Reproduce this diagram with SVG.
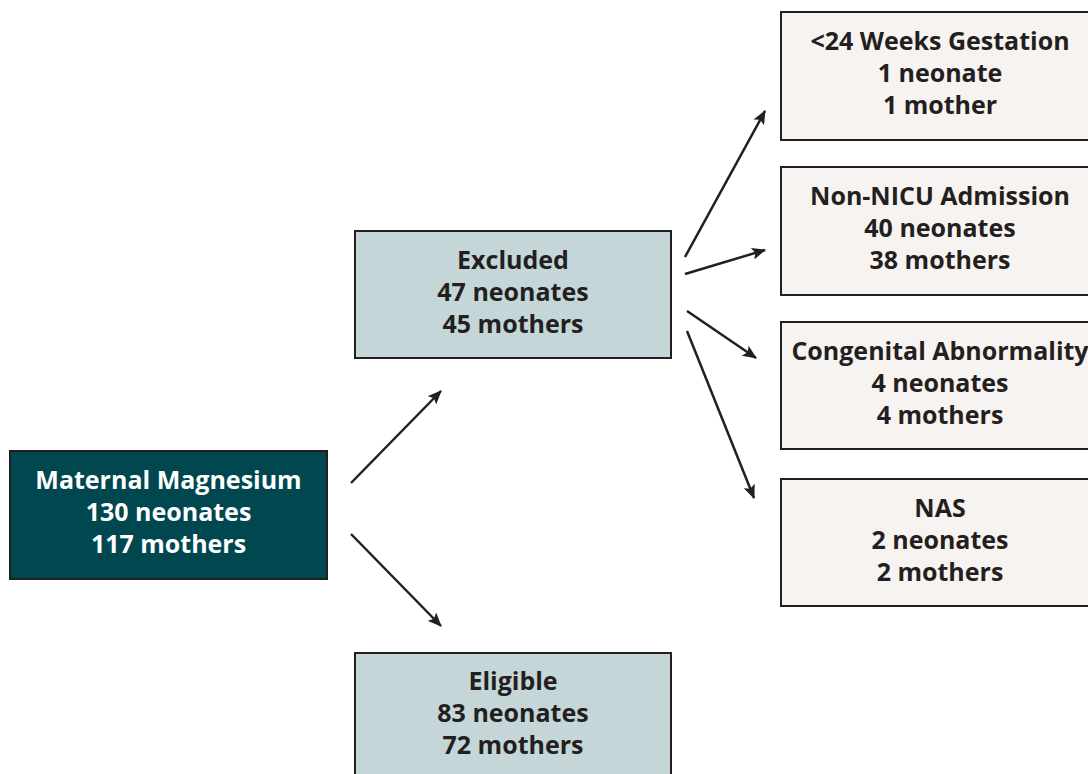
<svg xmlns="http://www.w3.org/2000/svg" width="1088" height="774" viewBox="0 0 1088 774">
<defs>
<marker id="ah" viewBox="0 0 14 12" refX="13" refY="6" markerWidth="14" markerHeight="12" markerUnits="userSpaceOnUse" orient="auto">
<path d="M0,0 L14,6 L0,12 L3,6 Z" fill="#231F20"/>
</marker>
<style>
.box{stroke:#231F20;stroke-width:2}
.t{font-family:"Open Sans",Lato,sans-serif;font-weight:700;font-size:25px;text-anchor:middle;fill:#231F20}
.w{fill:#ffffff}
.c{stroke:#231F20;stroke-width:2.5;fill:none;marker-end:url(#ah)}
</style>
</defs>
<rect width="1088" height="774" fill="#ffffff"/>
<g id="connectors">
<line class="c" x1="351" y1="483" x2="441" y2="391"/>
<line class="c" x1="351" y1="534" x2="441" y2="626"/>
<line class="c" x1="685" y1="257" x2="765" y2="111"/>
<line class="c" x1="685" y1="274" x2="765" y2="250"/>
<line class="c" x1="687" y1="311" x2="756" y2="358"/>
<line class="c" x1="687" y1="331" x2="754" y2="498"/>
</g>
<g id="maternal">
<rect class="box" x="10" y="451" width="317" height="128" fill="#00474F"/>
<text class="t w" x="168.5" y="489">Maternal Magnesium</text>
<text class="t w" x="168.5" y="521">130 neonates</text>
<text class="t w" x="168.5" y="553">117 mothers</text>
</g>
<g id="excluded">
<rect class="box" x="355" y="231" width="316" height="127" fill="#C5D6D8"/>
<text class="t" x="513" y="269">Excluded</text>
<text class="t" x="513" y="301">47 neonates</text>
<text class="t" x="513" y="333">45 mothers</text>
</g>
<g id="eligible">
<rect class="box" x="355" y="653" width="316" height="130" fill="#C5D6D8"/>
<text class="t" x="513" y="690">Eligible</text>
<text class="t" x="513" y="722">83 neonates</text>
<text class="t" x="513" y="754">72 mothers</text>
</g>
<g id="gestation">
<rect class="box" x="781" y="12" width="320" height="128" fill="#F7F3F1"/>
<text class="t" x="940" y="50">&lt;24 Weeks Gestation</text>
<text class="t" x="940" y="82">1 neonate</text>
<text class="t" x="940" y="114">1 mother</text>
</g>
<g id="nonnicu">
<rect class="box" x="781" y="167" width="320" height="128" fill="#F7F3F1"/>
<text class="t" x="940" y="205">Non-NICU Admission</text>
<text class="t" x="940" y="237">40 neonates</text>
<text class="t" x="940" y="269">38 mothers</text>
</g>
<g id="congenital">
<rect class="box" x="781" y="322" width="320" height="127" fill="#F7F3F1"/>
<text class="t" x="940" y="360">Congenital Abnormality</text>
<text class="t" x="940" y="392">4 neonates</text>
<text class="t" x="940" y="424">4 mothers</text>
</g>
<g id="nas">
<rect class="box" x="781" y="479" width="320" height="127" fill="#F7F3F1"/>
<text class="t" x="940" y="517">NAS</text>
<text class="t" x="940" y="549">2 neonates</text>
<text class="t" x="940" y="581">2 mothers</text>
</g>
</svg>
